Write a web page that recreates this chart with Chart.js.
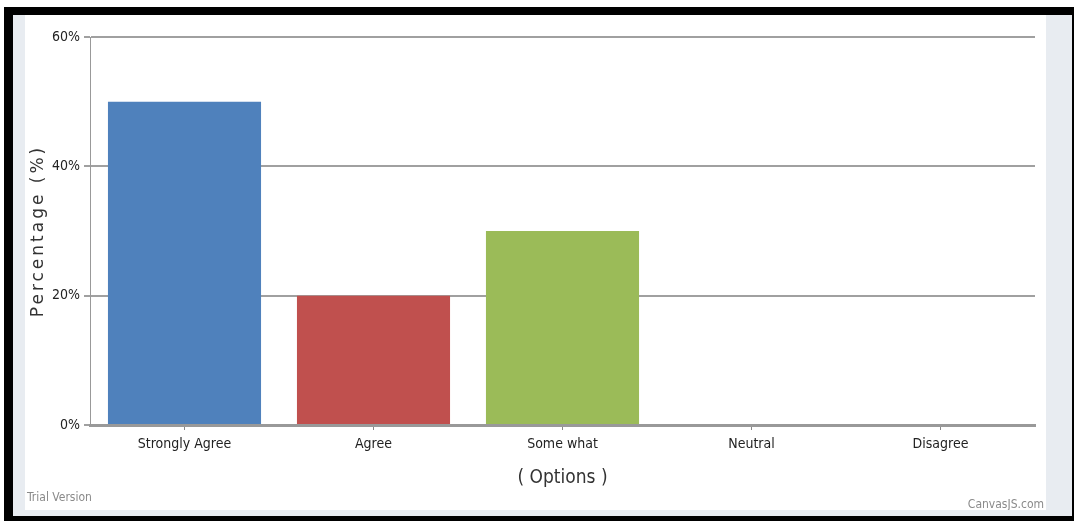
<!DOCTYPE html>
<html lang="en">
<head>
    <meta charset="UTF-8">
    <title>survey</title>
    <style>
        body { margin: 0; background: #fff; }
        #frame {
            position: absolute; left: 4px; top: 7px;
            width: 1059px; height: 501px;
            border-style: solid; border-color: #000;
            border-width: 8px 2px 5px 9px;
            background: #e8ecf1;
        }
        #box { position: absolute; left: 12px; top: 0; width: 1021px; height: 495px; background: #fff; }
    </style>
</head>
<body>

<script src="https://cdn.jsdelivr.net/npm/chart.js"></script>

<div id="frame">
    <div id="box"><canvas id="mycanvas"></canvas></div>
</div>

<script>
    const options = ["Strongly Agree", "Agree", "Some what", "Neutral", "Disagree"];
    const percentages = [50, 20, 30, 0, 0];
    const barColors = ["#4f81bc", "#c0504e", "#9bbb58", "#23bfaa", "#8064a1"];
    const yTicks = [0, 20, 40, 60];

    const narrow = "'Liberation Sans Narrow', 'DejaVu Sans Condensed', sans-serif";

    // the little grey texts in the corners
    const watermark = {
        id: "watermark",
        afterDraw(chart) {
            const ctx = chart.ctx;
            ctx.save();
            ctx.font = "12px " + narrow;
            ctx.fillStyle = "#8a8a8a";
            ctx.textBaseline = "alphabetic";
            ctx.textAlign = "left";
            ctx.fillText("Trial Version", 2, 486);
            ctx.textAlign = "right";
            ctx.fillText("CanvasJS.com", chart.width - 2, 493);
            ctx.restore();
        }
    };

    new Chart(document.getElementById("mycanvas"), {
        type: "bar",
        data: {
            labels: options,
            datasets: [{
                data: percentages,
                backgroundColor: barColors,
                borderWidth: 0,
                barPercentage: 1,
                categoryPercentage: 0.81
            }]
        },
        options: {
            responsive: true,
            maintainAspectRatio: false,
            animation: false,
            layout: { padding: { top: 22, right: 11, left: 0, bottom: 0 } },
            plugins: { legend: { display: false }, tooltip: { enabled: false } },
            scales: {
                x: {
                    afterFit(scale) { scale.height = 85; },
                    grid: { offset: false, drawOnChartArea: false, drawTicks: true, tickLength: 5, color: "#888", lineWidth: 1 },
                    border: { color: "#999", width: 3 },
                    ticks: { color: "#222", padding: 6, font: { family: narrow, size: 14 } },
                    title: { display: true, text: "( Options )", color: "#333", padding: { top: 0, bottom: 21 }, font: { family: narrow, size: 19 } }
                },
                y: {
                    min: 0,
                    max: 60,
                    afterFit(scale) {
                        scale.width = 65;
                        if (!scale._spaced) { // spread the title letters a bit
                            const orig = scale.drawTitle;
                            scale.drawTitle = function () {
                                this.ctx.save();
                                this.ctx.letterSpacing = "3px";
                                orig.call(this);
                                this.ctx.restore();
                            };
                            scale._spaced = true;
                        }
                    },
                    afterBuildTicks(scale) { scale.ticks = yTicks.map(v => ({ value: v })); },
                    grid: { color: "#a0a0a0", lineWidth: 2, tickLength: 6 },
                    border: { color: "#999", width: 1 },
                    ticks: { color: "#222", padding: 4, font: { family: narrow, size: 14 }, callback: v => v + "%" },
                    title: { display: true, text: "Percentage (%)", color: "#333", padding: { top: 3 }, font: { family: "'DejaVu Sans', sans-serif", size: 17 } }
                }
            }
        },
        plugins: [watermark]
    });
</script>

</body>
</html>
